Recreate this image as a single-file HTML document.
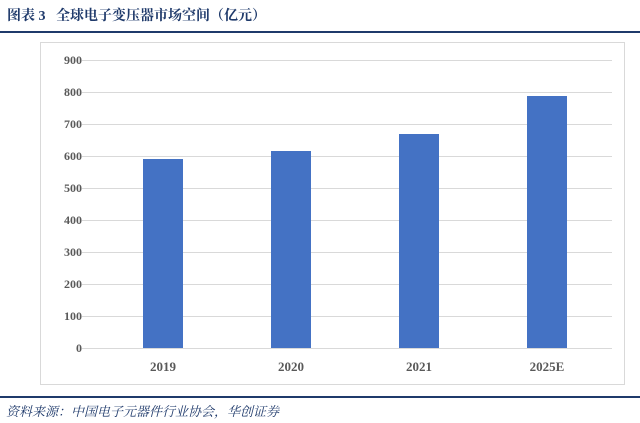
<!DOCTYPE html>
<html><head><meta charset="utf-8"><style>
body{margin:0;width:640px;height:423px;background:#fff;overflow:hidden;position:relative;font-family:"Liberation Serif","Noto Serif CJK SC",serif}
.t{position:absolute;left:7px;top:5px;font-size:14px;font-weight:bold;color:#1f3a6b;font-family:"Liberation Serif","Noto Serif CJK SC",serif}
.l1{position:absolute;left:0;top:31px;width:640px;height:2px;background:#1f3a6b}
.l2{position:absolute;left:0;top:396px;width:640px;height:2px;background:#1f3a6b}
.s{position:absolute;left:6px;top:401px;font-size:13px;color:#1f3a6b;font-style:italic;font-family:"Liberation Serif","Noto Serif CJK SC",serif}
</style></head><body>
<div class="t">图表 3&nbsp;&nbsp;&nbsp;全球电子变压器市场空间（亿元）</div>
<div class="l1"></div>
<svg style="position:absolute;left:0;top:0" width="640" height="423">
<rect x="40.5" y="42.5" width="584" height="342" fill="#fff" stroke="#d9d9d9"/>
<g stroke="#d9d9d9" stroke-width="1">
<line x1="82" x2="612" y1="60.5" y2="60.5"/><line x1="82" x2="612" y1="92.5" y2="92.5"/>
<line x1="82" x2="612" y1="124.5" y2="124.5"/><line x1="82" x2="612" y1="156.5" y2="156.5"/>
<line x1="82" x2="612" y1="188.5" y2="188.5"/><line x1="82" x2="612" y1="220.5" y2="220.5"/>
<line x1="82" x2="612" y1="252.5" y2="252.5"/><line x1="82" x2="612" y1="284.5" y2="284.5"/>
<line x1="82" x2="612" y1="316.5" y2="316.5"/><line x1="82" x2="612" y1="348.5" y2="348.5"/>
</g>
<g fill="#4472c4">
<rect x="143" y="159" width="40" height="189"/>
<rect x="271" y="151" width="40" height="197"/>
<rect x="399" y="134" width="40" height="214"/>
<rect x="527" y="96" width="40" height="252"/>
</g>
<g font-size="12" fill="#595959" text-anchor="end" font-family="Liberation Serif,serif" font-weight="bold">
<text x="82" y="64">900</text><text x="82" y="96">800</text><text x="82" y="128">700</text>
<text x="82" y="160">600</text><text x="82" y="192">500</text><text x="82" y="224">400</text>
<text x="82" y="256">300</text><text x="82" y="288">200</text><text x="82" y="320">100</text>
<text x="82" y="352">0</text>
</g>
<g font-size="13" fill="#595959" text-anchor="middle" font-family="Liberation Serif,serif" font-weight="bold">
<text x="163" y="371">2019</text><text x="291" y="371">2020</text><text x="419" y="371">2021</text><text x="547" y="371">2025E</text>
</g>
</svg>
<div class="l2"></div>
<div class="s">资料来源：中国电子元器件行业协会，华创证券</div>
</body></html>
